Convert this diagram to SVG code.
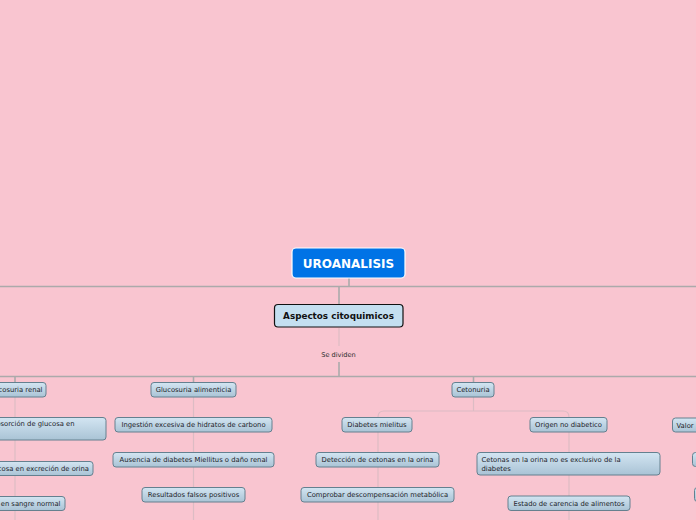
<svg xmlns="http://www.w3.org/2000/svg" width="696" height="520" viewBox="0 0 696 520">
<defs>
<linearGradient id="g" x1="0" y1="0" x2="0" y2="1">
<stop offset="0" stop-color="#d3e5f2"/>
<stop offset="1" stop-color="#a9c3d5"/>
</linearGradient>
</defs>
<style>
.n rect{fill:url(#g);stroke:#64808f;stroke-width:1}
.n text{font-family:"DejaVu Sans",Verdana,sans-serif;font-size:6.8px;fill:#1c2328}
.c .main{stroke:#abaaaa;stroke-width:1.6;fill:none}
.c .sub{stroke:#dcbcc4;stroke-width:1.2;fill:none}
</style>
<rect width="696" height="520" fill="#f9c5d0"/>
<g class="c" id="connectors">
<line class="main" x1="349" y1="278" x2="349" y2="287"/>
<line class="main" x1="0" y1="286.5" x2="696" y2="286.5"/>
<line class="main" x1="339" y1="287" x2="339" y2="304"/>
<line class="sub" x1="339" y1="328" x2="339" y2="346"/>
<line class="main" x1="339" y1="362" x2="339" y2="376"/>
<line class="main" x1="0" y1="376.5" x2="696" y2="376.5"/>
<line class="main" x1="15" y1="377" x2="15" y2="382"/>
<line class="main" x1="193.5" y1="377" x2="193.5" y2="382"/>
<line class="main" x1="473.5" y1="377" x2="473.5" y2="382"/>
<line class="sub" x1="15" y1="397" x2="15" y2="520"/>
<line class="sub" x1="193.5" y1="397" x2="193.5" y2="520"/>
<line class="sub" x1="473.5" y1="397" x2="473.5" y2="411"/>
<path class="sub" d="M378 520 V417 Q378 411 384 411 H563 Q569 411 569 417 V520"/>
</g>
<g id="uroanalisis">
<rect x="292" y="248" width="113" height="30" rx="4" fill="#0073e6" stroke="#ffffff" stroke-width="1.2"/>
<text x="348.5" y="267.5" text-anchor="middle" font-family="'DejaVu Sans',Verdana,sans-serif" font-weight="bold" font-size="12" fill="#ffffff">UROANALISIS</text>
</g>
<g id="aspectos">
<rect x="274.5" y="304.5" width="128.5" height="22.5" rx="3.5" fill="#c4dff0" stroke="#111111" stroke-width="1.2"/>
<text x="338.5" y="319" text-anchor="middle" font-family="'DejaVu Sans',Verdana,sans-serif" font-weight="bold" font-size="8.8" fill="#111111">Aspectos citoquimicos</text>
</g>
<g id="se-dividen">
<text x="338.5" y="357" text-anchor="middle" font-family="'DejaVu Sans',Verdana,sans-serif" font-size="6.6" fill="#2a2a2a">Se dividen</text>
</g>
<g class="n" id="glucosuria-renal">
<rect x="-20" y="382.5" width="66" height="14.5" rx="3"/>
<text x="42.5" y="392.3" text-anchor="end">Glucosuria renal</text>
</g>
<g class="n" id="reabsorcion">
<rect x="-40" y="417.5" width="146" height="22.5" rx="3"/>
<text x="74.5" y="426" text-anchor="end">Reabsorción de glucosa en</text>
</g>
<g class="n" id="glucosa-excrecion">
<rect x="-20" y="461.5" width="113" height="14" rx="3"/>
<text x="89" y="471" text-anchor="end">Glucosa en excreción de orina</text>
</g>
<g class="n" id="sangre-normal">
<rect x="-20" y="496.5" width="85" height="14" rx="3"/>
<text x="60.5" y="506" text-anchor="end">Glucosa en sangre normal</text>
</g>
<g class="n" id="glucosuria-alimenticia">
<rect x="151" y="382.5" width="85" height="14.5" rx="3"/>
<text x="193.5" y="392.3" text-anchor="middle">Glucosuria alimenticia</text>
</g>
<g class="n" id="ingestion">
<rect x="115" y="417.5" width="157" height="14.5" rx="3"/>
<text x="193.5" y="427.3" text-anchor="middle">Ingestión excesiva de hidratos de carbono</text>
</g>
<g class="n" id="ausencia">
<rect x="113" y="452.5" width="161" height="14.5" rx="3"/>
<text x="193.5" y="462.3" text-anchor="middle">Ausencia de diabetes Miellitus o daño renal</text>
</g>
<g class="n" id="falsos-positivos">
<rect x="142" y="487.5" width="103" height="14.5" rx="3"/>
<text x="193.5" y="497.3" text-anchor="middle">Resultados falsos positivos</text>
</g>
<g class="n" id="cetonuria">
<rect x="452" y="382.5" width="42" height="14.5" rx="3"/>
<text x="473" y="392.3" text-anchor="middle">Cetonuria</text>
</g>
<g class="n" id="diabetes-mielitus">
<rect x="342" y="417.5" width="70" height="14.5" rx="3"/>
<text x="377" y="427.3" text-anchor="middle">Diabetes mielitus</text>
</g>
<g class="n" id="deteccion">
<rect x="316" y="452.5" width="123" height="14.5" rx="3"/>
<text x="377.5" y="462.3" text-anchor="middle">Detección de cetonas en la orina</text>
</g>
<g class="n" id="comprobar">
<rect x="301" y="487.5" width="153" height="14.5" rx="3"/>
<text x="377.5" y="497.3" text-anchor="middle">Comprobar descompensación metabólica</text>
</g>
<g class="n" id="origen-no-diabetico">
<rect x="530" y="417.5" width="77" height="14.5" rx="3"/>
<text x="568.5" y="427.3" text-anchor="middle">Origen no diabetico</text>
</g>
<g class="n" id="cetonas-no-exclusivo">
<rect x="477" y="452.5" width="183" height="22.5" rx="3"/>
<text x="481.5" y="462.3">Cetonas en la orina no es exclusivo de la</text>
<text x="481.5" y="471.3">diabetes</text>
</g>
<g class="n" id="carencia">
<rect x="508" y="496" width="122" height="14.5" rx="3"/>
<text x="569" y="505.8" text-anchor="middle">Estado de carencia de alimentos</text>
</g>
<g class="n" id="valor">
<rect x="672.5" y="418" width="40" height="14" rx="3"/>
<text x="676.5" y="427.5">Valor</text>
</g>
<g class="n" id="right-node-1">
<rect x="692.5" y="452.5" width="20" height="14" rx="3"/>
</g>
<g class="n" id="right-node-2">
<rect x="694.5" y="487.5" width="20" height="14" rx="3"/>
</g>
</svg>
